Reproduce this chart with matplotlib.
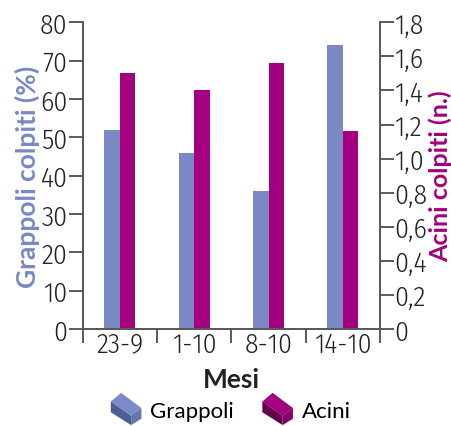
import matplotlib.pyplot as plt
from matplotlib.legend_handler import HandlerBase
from matplotlib.patches import Polygon, Patch
from matplotlib.ticker import FixedLocator, FuncFormatter
import numpy as np

NUM_FONT = ['Fira Sans Condensed', 'Lato', 'DejaVu Sans']
LAB_FONT = ['Lato', 'DejaVu Sans']
plt.rcParams['font.family'] = NUM_FONT
plt.rcParams['font.weight'] = 300

# Dati
mesi = ['23-9', '1-10', '8-10', '14-10']
grappoli = [52, 46, 36, 74]          # % grappoli colpiti
acini = [1.50, 1.40, 1.56, 1.16]      # n. acini colpiti

BLU = '#7889c4'
VIOLA = '#a4007f'
GRIGIO = '#5a5a5a'
TESTO = '#222222'


class BoxHandler(HandlerBase):
    # icona a parallelepipedo per la legenda
    def __init__(self, top, front, side):
        super().__init__()
        self.cols = (top, front, side)

    def create_artists(self, legend, orig_handle, xdescent, ydescent,
                       width, height, fontsize, trans):
        w = width
        h = height * 1.75
        x0 = -xdescent
        y0 = height / 2 - h / 2 - ydescent

        def P(pts):
            return [(x0 + px * w, y0 + py * h) for px, py in pts]
        top, front, side = self.cols
        faces = [
            (P([(0.05, 0.73), (0.37, 1.0), (1.0, 0.53), (0.68, 0.29)]), top),
            (P([(0.05, 0.73), (0.68, 0.29), (0.68, 0.0), (0.05, 0.40)]), front),
            (P([(0.68, 0.29), (1.0, 0.53), (1.0, 0.20), (0.68, 0.0)]), side),
        ]
        out = []
        for pts, c in faces:
            p = Polygon(pts, closed=True, facecolor=c, edgecolor='none', transform=trans)
            out.append(p)
        return out


fig = plt.figure(figsize=(4.51, 4.27), dpi=100)
ax = fig.add_axes([0.1834, 0.2272, 0.6592, 0.7182])
ax2 = ax.twinx()

x = np.arange(len(mesi))
w = 0.21
ax.bar(x - w / 2, grappoli, width=w, color=BLU, zorder=2)
ax2.bar(x + w / 2, acini, width=w, color=VIOLA, zorder=2)

ax.set_xlim(-0.5, len(mesi) - 0.5)
ax.set_ylim(0, 80)
ax2.set_ylim(0, 1.8)

for a in (ax, ax2):
    for s in a.spines.values():
        s.set_color(GRIGIO)
        s.set_linewidth(1.4)
    a.spines['top'].set_visible(False)

ax.set_yticks(np.arange(0, 81, 10))
ax2.set_yticks(np.arange(0, 1.81, 0.2))
ax2.yaxis.set_major_formatter(FuncFormatter(lambda v, p: f'{v:.1f}'.replace('.', ',') if v > 0.01 else '0'))

ax.tick_params(axis='y', length=10, width=1.4, color=GRIGIO, labelsize=20,
               labelcolor=TESTO, pad=1)
ax2.tick_params(axis='y', length=10, width=1.4, color=GRIGIO, labelsize=20,
                labelcolor=TESTO, pad=0)

# tacche ai confini delle categorie, etichette al centro
ax.xaxis.set_major_locator(FixedLocator(np.arange(-0.5, len(mesi), 1.0)))
ax.xaxis.set_major_formatter(FuncFormatter(lambda v, p: ''))
ax.xaxis.set_minor_locator(FixedLocator(x))
ax.set_xticklabels(mesi, minor=True)
ax.tick_params(axis='x', which='major', length=10, width=1.4, color=GRIGIO)
ax.tick_params(axis='x', which='minor', length=0, labelsize=20,
               labelcolor=TESTO, pad=1)

ax.set_xlabel('Mesi', fontsize=19, fontweight='bold', color=TESTO,
              family=LAB_FONT, labelpad=7)
ax.set_ylabel('Grappoli colpiti (%)', fontsize=19, fontweight='bold', color=BLU,
              family=LAB_FONT, labelpad=0)
ax2.set_ylabel('Acini colpiti (n.)', fontsize=18, fontweight='bold', color=VIOLA,
               family=LAB_FONT, labelpad=1)

h1 = Patch(facecolor=BLU)
h2 = Patch(facecolor=VIOLA)
fig.legend([h1, h2], ['Grappoli', 'Acini'], loc='center', bbox_to_anchor=(0.51, 0.037),
           ncol=2, frameon=False, handlelength=1.45, handleheight=0.9,
           handletextpad=0.4, columnspacing=1.2,
           handler_map={h1: BoxHandler('#7b8cc8', '#4e5d93', '#6474ad'),
                        h2: BoxHandler('#a4007f', '#66004d', '#85006a')},
           prop={'family': LAB_FONT, 'size': 16, 'weight': 'normal'})

fig.savefig('out.png', dpi=100)
